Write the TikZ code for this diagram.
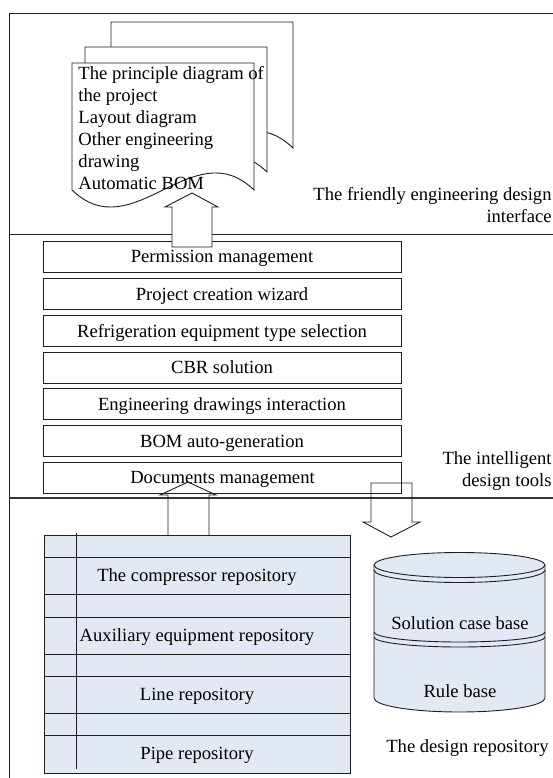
\documentclass[tikz,border=0pt]{standalone}
\usepackage{fontspec}
\setmainfont{Liberation Serif}
\definecolor{repoblue}{RGB}{226,233,245}
\definecolor{lineblack}{RGB}{30,30,30}
\begin{document}
\begin{tikzpicture}[x=1pt,y=-1pt,line width=0.9pt,draw=lineblack,
  lbl/.style={font=\fontsize{18.6}{22}\selectfont, inner sep=0pt},
  toolbox/.style={draw, minimum width=358pt, minimum height=31pt, inner sep=0pt,
    text height=14pt, text depth=2pt, font=\fontsize{18.6}{22}\selectfont},
  pagebox/.style={draw, fill=white},
  blockarrow/.style={draw, line join=miter},
  reporow/.style={draw, fill=repoblue, minimum width=306pt, inner sep=0pt, anchor=north west},
  sep/.style={draw, line width=0.9pt}
]
\useasboundingbox (0,0) rectangle (553,778);

% frame and layer separators
\draw[sep] (560,13) -- (9,13) -- (9,785);
\draw[sep] (9,234) -- (560,234);
\draw[sep, line width=1.4pt, black!80] (9,498) -- (560,498);

% stacked document pages
\foreach \x/\y/\h in {111/22/126, 85/47/125, 72/63/127}
  \draw[pagebox] (\x,\y) -- ++(182,0) -- ++(0,\h)
     .. controls +(-61,-59) and +(61,59) .. ++(-182,0) -- cycle;
\node[lbl, align=left, anchor=north west] (doctext) at (78,66)
  {The principle diagram of\\the project\\Layout diagram\\Other engineering\\drawing\\Automatic BOM};

% tool boxes
\node[toolbox] (perm) at (222,256.5) {Permission management};
\node[toolbox] (proj) at (222,294) {Project creation wizard};
\node[toolbox] (refr) at (222,331) {Refrigeration equipment type selection};
\node[toolbox] (cbr)  at (222,367.5) {CBR solution};
\node[toolbox] (engd) at (222,404) {Engineering drawings interaction};
\node[toolbox] (bom)  at (222,441) {BOM auto-generation};
\node[toolbox] (docs) at (222.5,477.5) {Documents management};

% block arrow up to the pages
\draw[blockarrow, fill=white] (172,247) -- (172,207) -- (165,207) -- (192,193)
  -- (218,207) -- (212,207) -- (212,247) -- cycle;

% layer labels
\node[lbl, align=right, anchor=north east] (layer1) at (552,186.5)
  {The friendly engineering design\\interface};
\node[lbl, align=right, anchor=north east] (layer2) at (552,451.5)
  {The intelligent\\design tools};
\node[lbl, anchor=base east] (layer3) at (549,752) {The design repository};

% repository table
\node[reporow, minimum height=22pt] (r1) at (44,535) {};
\node[reporow, minimum height=37pt] (r2) at (44,557) {};
\node[reporow, minimum height=23pt] (r3) at (44,594) {};
\node[reporow, minimum height=37pt] (r4) at (44,617) {};
\node[reporow, minimum height=22pt] (r5) at (44,654) {};
\node[reporow, minimum height=37pt] (r6) at (44,676) {};
\node[reporow, minimum height=22pt] (r7) at (44,713) {};
\node[reporow, minimum height=38pt] (r8) at (44,735) {};
\coordinate (vtop) at (76,533);
\coordinate (vbot) at (76,769);
\draw (vtop) -- (vbot);
\node[lbl, anchor=base] (t1) at (197,581) {The compressor repository};
\node[lbl, anchor=base] (t2) at (197,641) {Auxiliary equipment repository};
\node[lbl, anchor=base] (t3) at (197,700.5) {Line repository};
\node[lbl, anchor=base] (t4) at (197,759) {Pipe repository};

% block arrow from table up to documents
\draw[blockarrow] (168,535) -- (168,495) -- (160,495) -- (188,482) -- (216,495)
  -- (209,495) -- (209,535);

% block arrow down to the database
\draw[blockarrow] (371,483) -- (412,483) -- (412,522) -- (420,522) -- (391,537)
  -- (363,522) -- (371,522) -- cycle;

% database cylinder
\draw[fill=repoblue] (374,565) -- (374,698) arc[start angle=180, end angle=0, x radius=85.5, y radius=14]
  -- (545,565);
\draw[fill=repoblue] (459.5,565) ellipse [x radius=85.5, y radius=12.5];
\draw (374,570) arc[start angle=180, end angle=0, x radius=85.5, y radius=12.5];
\draw (374,632) arc[start angle=180, end angle=0, x radius=85.5, y radius=10];
\draw (374,637) arc[start angle=180, end angle=0, x radius=85.5, y radius=10];
\node[lbl, anchor=base] (sol) at (460,629) {Solution case base};
\node[lbl, anchor=base] (rule) at (460,697) {Rule base};
\end{tikzpicture}
\end{document}
